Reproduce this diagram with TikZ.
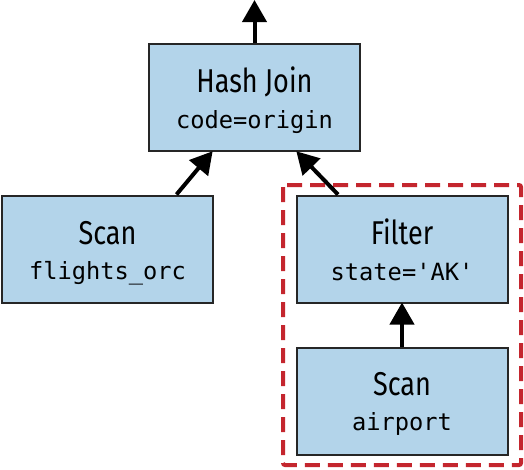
\documentclass[tikz,border=0pt]{standalone}
\usepackage{fontspec}
\usetikzlibrary{arrows.meta}
\newfontfamily\titlefont[FakeStretch=0.82]{Fira Sans}
\newfontfamily\codefont{DejaVu Sans Mono}
\definecolor{boxfill}{HTML}{B3D4EA}
\definecolor{dashred}{HTML}{C4262E}
\tikzset{
  opbox/.style={draw=black!85, line width=2pt, fill=boxfill, minimum width=211pt, minimum height=107pt, inner sep=0pt},
  ttl/.style={anchor=base, font=\titlefont\fontsize{33}{35}\selectfont, inner sep=0pt},
  code/.style={anchor=base, font=\codefont\fontsize{23.7}{25}\selectfont, inner sep=0pt},
  flow/.style={line width=4pt, -{Triangle[width=24pt,length=22pt]}, shorten >=-1pt},
}
\begin{document}
\begin{tikzpicture}[x=1pt,y=-1pt]
\useasboundingbox (0,0) rectangle (524,469);
\draw[dashred, line width=4pt, dash pattern=on 15pt off 8pt, rounded corners=2pt] (283,185) rectangle (521,465);
\node[opbox] (hj) at (254.5,97.5) {};
\node[ttl] (hjT) at ([yshift=5.5pt]hj.center) {Hash Join};
\node[code] (hjC) at ([yshift=-30.5pt]hj.center) {code=origin};
\node[opbox] (sf) at (107.5,249) {};
\node[ttl] (sfT) at ([yshift=5pt]sf.center) {Scan};
\node[code] (sfC) at ([yshift=-30pt]sf.center) {flights\_orc};
\node[opbox] (fi) at (402,249) {};
\node[ttl] (fiT) at ([yshift=5pt]fi.center) {Filter};
\node[code] (fiC) at ([yshift=-31pt]fi.center) {state='AK'};
\node[opbox] (sa) at (402,401) {};
\node[ttl] (saT) at ([yshift=6pt]sa.center) {Scan};
\node[code] (saC) at ([yshift=-29pt]sa.center) {airport};
\coordinate (out) at (254.5,1);
\draw[flow] (hj.north) -- (out);
\draw[flow] ([xshift=-37.5pt]sf.north east) -- ([xshift=-42.5pt]hj.south);
\draw[flow] ([xshift=-64pt]fi.north) -- ([xshift=42.5pt]hj.south);
\draw[flow] (sa.north) -- (fi.south);
\end{tikzpicture}
\end{document}
